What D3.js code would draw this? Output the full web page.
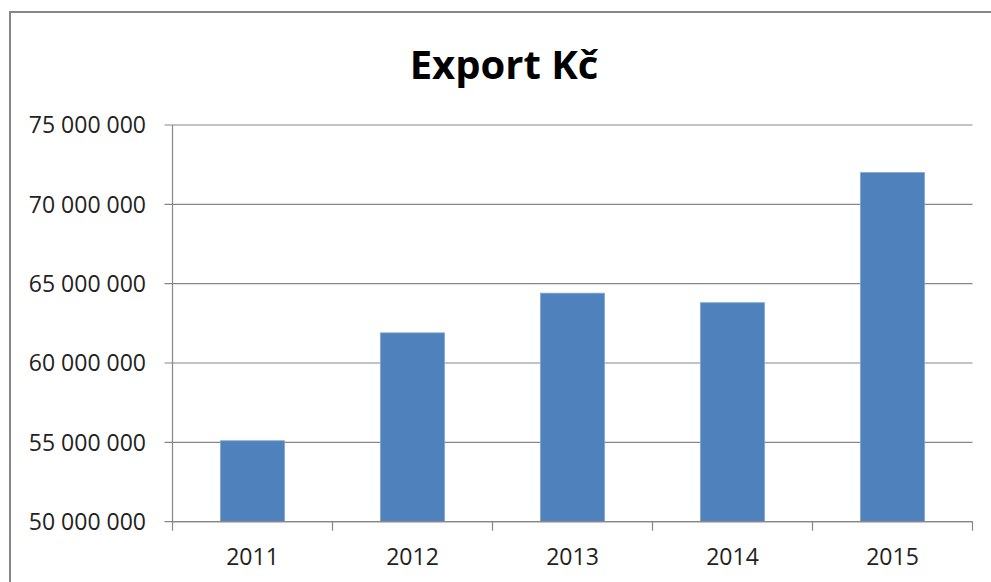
<!DOCTYPE html>
<html><head><meta charset="utf-8">
<script src="https://cdn.jsdelivr.net/npm/d3@7"></script>
<style>body{margin:0;background:#fff}svg{display:block}</style>
</head><body>
<script>
const years = ["2011","2012","2013","2014","2015"];
const exportValues = [55100000, 61900000, 64400000, 63800000, 72000000];
const yTicks = [50000000,55000000,60000000,65000000,70000000,75000000];
const title = "Export Kč";

(function(){
const W=991,H=582;
const svg=d3.select("body").append("svg").attr("width",W).attr("height",H);
svg.append("rect").attr("x",10).attr("y",12).attr("width",990).attr("height",600)
  .attr("fill","#fff").attr("stroke","#868686").attr("stroke-width",2);

const pl=172.5,pr=972.5,pt=125,pb=521.7;
const x=d3.scaleBand().domain(years).range([pl,pr]).paddingInner(0.6).paddingOuter(0.3);
const y=d3.scaleLinear().domain([50000000,75000000]).range([pb,pt]);
const fmt=v=>d3.format(",")(v).replace(/,/g," ");

svg.append("g").selectAll("line").data(yTicks).join("line")
  .attr("x1",pl-8).attr("x2",pr).attr("y1",d=>y(d)).attr("y2",d=>y(d))
  .attr("stroke","#878787").attr("stroke-width",1.2);

svg.append("g").selectAll("rect").data(years).join("rect")
  .attr("x",d=>x(d)).attr("width",x.bandwidth())
  .attr("y",(d,i)=>y(exportValues[i])).attr("height",(d,i)=>pb-y(exportValues[i]))
  .attr("fill","#4F81BD").attr("stroke","#7FA2D0").attr("stroke-width",0.8);

svg.append("line").attr("x1",pl).attr("x2",pl).attr("y1",pt).attr("y2",pb)
  .attr("stroke","#878787").attr("stroke-width",1.2);
svg.append("line").attr("x1",pl).attr("x2",pr).attr("y1",pb).attr("y2",pb)
  .attr("stroke","#878787").attr("stroke-width",1.2);
const edges=d3.range(years.length+1).map(i=>pl+i*(pr-pl)/years.length);
svg.append("g").selectAll("line").data(edges).join("line")
  .attr("x1",d=>d).attr("x2",d=>d).attr("y1",pb).attr("y2",pb+9)
  .attr("stroke","#878787").attr("stroke-width",1.2);

svg.append("g").selectAll("text").data(yTicks).join("text")
  .attr("x",146).attr("y",d=>y(d)+8.3).attr("text-anchor","end")
  .attr("font-family","'Open Sans', sans-serif").attr("font-size",23).attr("fill","#222")
  .text(fmt);
svg.append("g").selectAll("text").data(years).join("text")
  .attr("x",d=>x(d)+x.bandwidth()/2).attr("y",565).attr("text-anchor","middle")
  .attr("font-family","'Open Sans', sans-serif").attr("font-size",23).attr("fill","#222")
  .text(d=>d);
svg.append("text").attr("x",504).attr("y",79).attr("text-anchor","middle")
  .attr("font-family","'Open Sans', sans-serif").attr("font-weight","bold").attr("font-size",40)
  .attr("fill","#000").text(title);
})();
</script>
</body></html>
